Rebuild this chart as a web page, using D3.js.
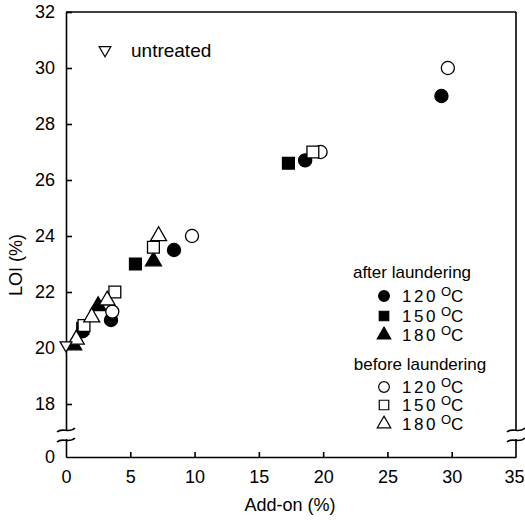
<!DOCTYPE html>
<html><head><meta charset="utf-8">
<script src="https://cdn.jsdelivr.net/npm/d3@7"></script>
<style>body{margin:0;background:#fff}svg{display:block}text{font-family:"Liberation Sans",Arial,sans-serif;fill:#000}</style>
</head><body>
<svg id="c" width="525" height="522"></svg>
<script>
// ---- data ----
const xTicks = [0, 5, 10, 15, 20, 25, 30, 35];
const yTicks = [0, 18, 20, 22, 24, 26, 28, 30, 32];
const after120 = [[1.3, 20.6], [3.5, 21.0], [8.4, 23.5], [18.6, 26.7], [29.2, 29.0]];
const after150 = [[1.3, 20.7], [5.4, 23.0], [17.3, 26.6]];
const after180 = [[0.6, 20.1], [2.5, 21.5], [6.8, 23.1]];
const before120 = [[3.6, 21.3], [9.8, 24.0], [19.8, 27.0], [29.7, 30.0]];
const before150 = [[1.4, 20.8], [3.8, 22.0], [6.8, 23.6], [19.2, 27.0]];
const before180 = [[0.8, 20.3], [2.0, 21.1], [3.2, 21.7], [7.2, 24.0]];
const untreated = [[0, 20.1]];

const svg = d3.select("#c");
const L = 66, R = 516, T = 12, B = 457;
const x = d3.scaleLinear().domain([0, 35]).range([L, R]);
// broken axis: 0 .. (break) .. 17 -> 32
const y = d3.scaleLinear().domain([0, 17, 32]).range([B, 432, T]);

// axes
const xAxis = d3.axisBottom(x).tickValues(xTicks).tickSizeInner(-5).tickSizeOuter(0).tickPadding(13);
const gx = svg.append("g").attr("transform", `translate(0,${B})`).call(xAxis);
const yAxis = d3.axisLeft(y).tickValues(yTicks).tickSizeInner(-6).tickSizeOuter(0).tickPadding(11);
const gy = svg.append("g").attr("transform", `translate(${L},0)`).call(yAxis);
gy.selectAll(".tick").filter(d => d === 0).select("line").remove();
[gx, gy].forEach(g => {
  g.selectAll("text").style("font-size", "18px").style("font-family", '"Liberation Sans",Arial,sans-serif');
  g.selectAll("path,line").attr("stroke", "#000").attr("stroke-width", 1.6);
});
gx.selectAll(".tick").filter(d => d === 0 || d === 35).select("line").remove();
gx.selectAll(".tick").filter(d => d === 35).select("text").attr("text-anchor", "end").attr("dx", 8);
// frame
svg.append("line").attr("x1", L).attr("x2", R).attr("y1", T).attr("y2", T).attr("stroke", "#000").attr("stroke-width", 1.6);
svg.append("line").attr("x1", R).attr("x2", R).attr("y1", T).attr("y2", B).attr("stroke", "#000").attr("stroke-width", 1.6);

// axis breaks
[L, R].forEach(cx => {
  svg.append("rect").attr("x", cx - 3).attr("y", 431).attr("width", 6).attr("height", 8).attr("fill", "#fff");
  [430, 440].forEach(by => {
    svg.append("path")
      .attr("d", `M${cx - 9},${by + 2} C${cx - 4},${by - 3} ${cx + 3},${by + 4} ${cx + 9},${by - 2}`)
      .attr("fill", "none").attr("stroke", "#000").attr("stroke-width", 1.6);
  });
});

// markers
const sym = (type, size) => d3.symbol().type(type).size(size)();
function drawSeries(data, type, size, filled, rot) {
  svg.append("g").selectAll("path").data(data).join("path")
    .attr("d", sym(type, size))
    .attr("transform", d => `translate(${x(d[0])},${y(d[1])})${rot ? " rotate(180)" : ""}`)
    .attr("fill", filled ? "#000" : "#fff")
    .attr("stroke", "#000").attr("stroke-width", 1.3);
}
drawSeries(after120, d3.symbolCircle, 135, true);
drawSeries(after150, d3.symbolSquare, 140, true);
drawSeries(after180, d3.symbolTriangle, 110, true);
drawSeries(before120, d3.symbolCircle, 135, false);
drawSeries(before150, d3.symbolSquare, 140, false);
drawSeries(before180, d3.symbolTriangle, 110, false);
drawSeries(untreated, d3.symbolTriangle, 60, false, true);

// untreated label
svg.append("path").attr("d", sym(d3.symbolTriangle, 60)).attr("transform", "translate(105,50) rotate(180)")
  .attr("fill", "#fff").attr("stroke", "#000").attr("stroke-width", 1.2);
svg.append("text").attr("x", 131).attr("y", 57).style("font-size", "19px").text("untreated");

// legend
const leg = svg.append("g");
function legRow(yy, type, size, filled, label) {
  leg.append("path").attr("d", sym(type, size)).attr("transform", `translate(384,${yy})`)
    .attr("fill", filled ? "#000" : "#fff").attr("stroke", "#000").attr("stroke-width", 1.2);
  const t = leg.append("text").attr("x", 402).attr("y", yy + 6).style("font-size", "17px");
  t.append("tspan").style("letter-spacing", "2.5px").text(label);
  t.append("tspan").attr("dx", 3).attr("dy", -6).style("font-size", "13px").text("O");
  t.append("tspan").attr("dy", 6).text("C");
}
leg.append("text").attr("x", 412).attr("y", 278).attr("text-anchor", "middle").style("font-size", "17px").text("after laundering");
legRow(296, d3.symbolCircle, 90, true, "120");
legRow(316, d3.symbolSquare, 90, true, "150");
legRow(335, d3.symbolTriangle, 80, true, "180");
leg.append("text").attr("x", 420).attr("y", 370).attr("text-anchor", "middle").style("font-size", "17px").text("before laundering");
legRow(387, d3.symbolCircle, 90, false, "120");
legRow(405, d3.symbolSquare, 90, false, "150");
legRow(424, d3.symbolTriangle, 80, false, "180");

// axis titles
svg.append("text").attr("x", 290).attr("y", 511).attr("text-anchor", "middle").style("font-size", "18px").text("Add-on (%)");
svg.append("text").attr("transform", "translate(22,265) rotate(-90)").attr("text-anchor", "middle").style("font-size", "18px").text("LOI (%)");
</script>
</body></html>
